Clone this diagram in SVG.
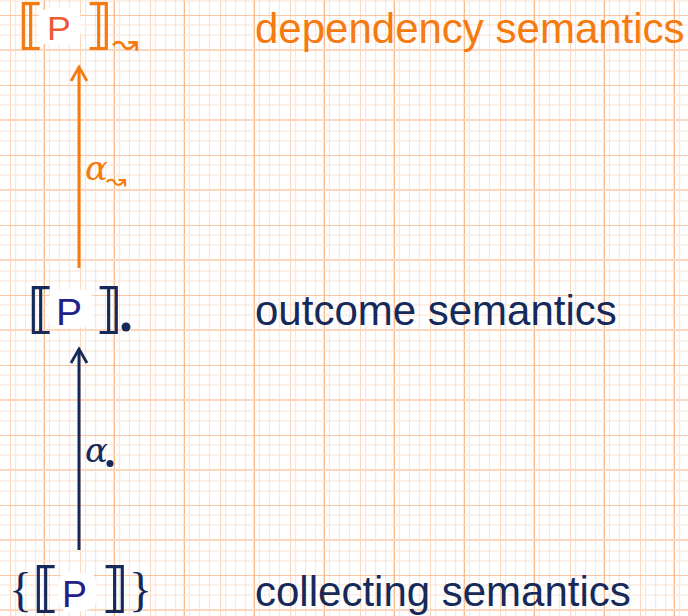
<svg xmlns="http://www.w3.org/2000/svg" width="688" height="616" viewBox="0 0 688 616">
  <defs>
    <pattern id="gridV" patternUnits="userSpaceOnUse" x="10" y="0" width="70" height="616">
      <line x1="0" y1="0" x2="0" y2="616" stroke="#fdd7bd" stroke-width="2"/>
      <line x1="5.7" y1="0" x2="5.7" y2="616" stroke="#fbe2d2" stroke-width="1"/>
      <line x1="15.7" y1="0" x2="15.7" y2="616" stroke="#fbe2d2" stroke-width="1"/>
      <line x1="25.7" y1="0" x2="25.7" y2="616" stroke="#fbe2d2" stroke-width="1"/>
      <line x1="34.3" y1="0" x2="34.3" y2="616" stroke="#fbb684" stroke-width="1.3"/>
      <line x1="39.3" y1="0" x2="39.3" y2="616" stroke="#fbe2d2" stroke-width="1"/>
      <line x1="49.3" y1="0" x2="49.3" y2="616" stroke="#fbe2d2" stroke-width="1"/>
      <line x1="59.3" y1="0" x2="59.3" y2="616" stroke="#fbe2d2" stroke-width="1"/>
    </pattern>
    <pattern id="gridH" patternUnits="userSpaceOnUse" x="0" y="15" width="688" height="70">
      <line x1="0" y1="0" x2="688" y2="0" stroke="#fbb684" stroke-width="1.3"/>
      <line x1="0" y1="10" x2="688" y2="10" stroke="#fbe2d2" stroke-width="1"/>
      <line x1="0" y1="20" x2="688" y2="20" stroke="#fbe2d2" stroke-width="1"/>
      <line x1="0" y1="35" x2="688" y2="35" stroke="#fdd7bd" stroke-width="2"/>
      <line x1="0" y1="46" x2="688" y2="46" stroke="#fbe2d2" stroke-width="1"/>
      <line x1="0" y1="56" x2="688" y2="56" stroke="#fbe2d2" stroke-width="1"/>
    </pattern>
    <marker id="headOrange" markerUnits="userSpaceOnUse" viewBox="0 0 20 20" refX="16" refY="10" markerWidth="20" markerHeight="20" orient="auto">
      <polyline points="2,2 16,10 2,18" fill="none" stroke="#f57a0f" stroke-width="2.8" stroke-linejoin="miter"/>
    </marker>
    <marker id="headNavy" markerUnits="userSpaceOnUse" viewBox="0 0 20 20" refX="16" refY="10" markerWidth="20" markerHeight="20" orient="auto">
      <polyline points="2,2 16,10 2,18" fill="none" stroke="#15295a" stroke-width="2.8" stroke-linejoin="miter"/>
    </marker>
    <style>
      .label { font-family: "Liberation Sans", Arial, sans-serif; font-size: 42px; }
      .orange { fill: #f57a0f; }
      .navy { fill: #15295a; }
      .brk { font-family: "DejaVu Serif", "DejaVu Sans", serif; font-size: 54px; font-weight: bold; }
      .brace { font-family: "Liberation Serif", "Times New Roman", serif; font-size: 48px; }
      .pchar { font-family: "Liberation Sans", Arial, sans-serif; font-size: 34px; }
      .alpha { font-family: "DejaVu Serif", "Liberation Serif", serif; font-style: italic; font-size: 34px; }
      .wave { font-family: "DejaVu Sans", sans-serif; }
      .blob { fill: #ffffff; }
    </style>
  </defs>

  <rect width="688" height="616" fill="#ffffff"/>
  <rect width="688" height="616" fill="url(#gridV)"/>
  <rect width="688" height="616" fill="url(#gridH)"/>

  <g id="connectors">
    <line id="alpha-dep" x1="79" y1="268" x2="79" y2="67" stroke="#f57a0f" stroke-width="3" marker-end="url(#headOrange)"/>
    <line id="alpha-out" x1="79" y1="550" x2="79" y2="349" stroke="#15295a" stroke-width="3" marker-end="url(#headNavy)"/>
    <g id="label-alpha-dep">
      <text class="alpha orange" x="85" y="180">α</text>
      <text class="wave orange" x="106" y="189" font-size="25">↝</text>
    </g>
    <g id="label-alpha-out">
      <text class="alpha navy" x="85" y="462">α</text>
      <circle cx="110" cy="463.5" r="3.5" fill="#15295a"/>
    </g>
  </g>

  <g id="node-dependency">
    <path class="blob" d="M40,12 Q50,6 62,9 Q76,6 80,14 Q83,28 79,40 Q70,47 56,45 Q42,47 39,38 Q36,24 40,12 Z"/>
    <text class="brk orange" x="17" y="43">⟦</text>
    <text class="pchar" x="47" y="40" fill="#ef5a36" transform="translate(47 40) scale(1.05 1) translate(-47 -40)">P</text>
    <text class="brk orange" x="85" y="43">⟧</text>
    <text class="wave orange" x="112" y="54" font-size="32">↝</text>
    <text class="label orange" x="255" y="42.5">dependency semantics</text>
  </g>

  <g id="node-outcome">
    <path class="blob" d="M50,293 Q60,287 72,290 Q88,287 92,296 Q95,310 91,322 Q82,330 68,328 Q52,330 49,321 Q46,306 50,293 Z"/>
    <text class="brk navy" x="27" y="327">⟦</text>
    <text class="pchar" x="56" y="325" fill="#23208a" transform="translate(56 325) scale(1.15 1.1) translate(-56 -325)">P</text>
    <text class="brk navy" x="95" y="327">⟧</text>
    <circle cx="126" cy="327" r="4.5" fill="#15295a"/>
    <text class="label navy" x="255" y="325">outcome semantics</text>
  </g>

  <g id="node-collecting">
    <path class="blob" d="M60,576 Q70,570 80,573 Q94,571 96,580 Q98,595 95,606 Q86,613 74,611 Q61,613 59,604 Q56,590 60,576 Z"/>
    <text class="brace navy" x="9" y="606">{</text>
    <text class="brk navy" x="32" y="606">⟦</text>
    <text class="pchar" x="62" y="607" fill="#23208a" transform="translate(62 607) scale(1.1 1.1) translate(-62 -607)">P</text>
    <text class="brk navy" x="101" y="606">⟧</text>
    <text class="brace navy" x="129" y="606">}</text>
    <text class="label navy" x="255" y="605.5">collecting semantics</text>
  </g>
</svg>
